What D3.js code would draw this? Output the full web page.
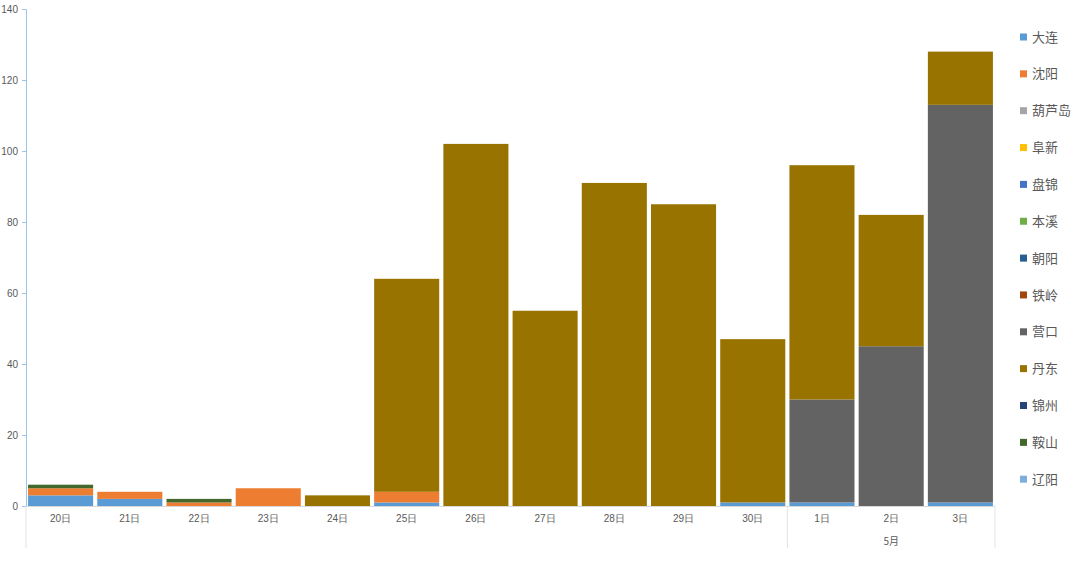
<!DOCTYPE html>
<html><head><meta charset="utf-8">
<script src="https://cdn.jsdelivr.net/npm/d3@7/dist/d3.min.js"></script>
<style>body{margin:0;background:#fff;}svg{display:block;font-family:"Noto Sans CJK SC","Noto Sans",sans-serif;}</style>
</head><body><svg id="c" width="1080" height="563"></svg>
<script>
const categories = ["20日","21日","22日","23日","24日","25日","26日","27日","28日","29日","30日","1日","2日","3日"];
const seriesNames = ["大连","沈阳","葫芦岛","阜新","盘锦","本溪","朝阳","铁岭","营口","丹东","锦州","鞍山","辽阳"];
const seriesColors = ["#5B9BD5","#ED7D31","#A5A5A5","#FFC000","#4472C4","#70AD47","#255E91","#9E480E","#636363","#997300","#264478","#43682B","#7CAFDD"];
const dalian   = [3,2,0,0,0,1,0,0,0,0,1,1,0,1];
const shenyang = [2,2,1,5,0,3,0,0,0,0,0,0,0,0];
const huludao  = [0,0,0,0,0,0,0,0,0,0,0,0,0,0];
const fuxin    = [0,0,0,0,0,0,0,0,0,0,0,0,0,0];
const panjin   = [0,0,0,0,0,0,0,0,0,0,0,0,0,0];
const benxi    = [0,0,0,0,0,0,0,0,0,0,0,0,0,0];
const chaoyang = [0,0,0,0,0,0,0,0,0,0,0,0,0,0];
const tieling  = [0,0,0,0,0,0,0,0,0,0,0,0,0,0];
const yingkou  = [0,0,0,0,0,0,0,0,0,0,0,29,45,112];
const dandong  = [0,0,0,0,3,60,102,55,91,85,46,66,37,15];
const jinzhou  = [0,0,0,0,0,0,0,0,0,0,0,0,0,0];
const anshan   = [1,0,1,0,0,0,0,0,0,0,0,0,0,0];
const liaoyang = [0,0,0,0,0,0,0,0,0,0,0,0,0,0];
const yTicks = [0,20,40,60,80,100,120,140];
const monthLabel = "5月";

(function(){
const seriesValues = [dalian,shenyang,huludao,fuxin,panjin,benxi,chaoyang,tieling,yingkou,dandong,jinzhou,anshan,liaoyang];
const table = categories.map((c,i)=>{const o={cat:c};seriesNames.forEach((s,j)=>o[s]=seriesValues[j][i]);return o;});

const svg = d3.select("#c");
const L=26, R=995, T=9, B=506;
const x = d3.scaleBand().domain(categories).range([L,R]).paddingInner(0.06).paddingOuter(0.03);
const y = d3.scaleLinear().domain([0,140]).range([B,T]);

const stack = d3.stack().keys(seriesNames)(table);
const color = d3.scaleOrdinal().domain(seriesNames).range(seriesColors);

svg.append("g").selectAll("g").data(stack).join("g")
  .attr("fill",d=>color(d.key))
  .selectAll("rect").data(d=>d.filter(p=>p[1]-p[0]>0)).join("rect")
  .attr("x",d=>x(d.data.cat)).attr("width",x.bandwidth())
  .attr("y",d=>y(d[1])).attr("height",d=>y(d[0])-y(d[1]));

const ya = svg.append("g").attr("transform",`translate(${L},0)`)
  .call(d3.axisLeft(y).tickValues(yTicks).tickSize(4).tickPadding(4));
ya.select(".domain").attr("stroke","#9DC3E6");
ya.selectAll(".tick line").attr("stroke","#9DC3E6");
ya.selectAll(".tick text").attr("fill","#595959").attr("font-size",10).attr("font-family","Liberation Sans, Arial, sans-serif");

const xa = svg.append("g").attr("transform",`translate(0,${B})`)
  .call(d3.axisBottom(x).tickSize(0).tickPadding(9));
xa.select(".domain").attr("stroke","#D9D9D9").attr("d",`M${L},0.5H${R}`);
xa.selectAll(".tick text").attr("fill","#595959").attr("font-size",10);

const sepX = [L, x("1日")-x.step()*x.paddingInner()/2, R];
svg.append("g").selectAll("line").data(sepX).join("line")
  .attr("x1",d=>d).attr("x2",d=>d).attr("y1",B).attr("y2",548)
  .attr("stroke","#E3E3E3").attr("stroke-width",1);
svg.append("text").attr("x",(sepX[1]+sepX[2])/2).attr("y",545)
  .attr("text-anchor","middle").attr("fill","#595959").attr("font-size",10).text(monthLabel);

const lg = svg.append("g").selectAll("g").data(seriesNames).join("g")
  .attr("transform",(d,i)=>`translate(1020,${37+i*36.85})`);
lg.append("rect").attr("x",0).attr("y",-3.5).attr("width",7).attr("height",7).attr("fill",d=>color(d));
lg.append("text").attr("x",12).attr("y",0).attr("dy","0.35em").attr("font-size",13).attr("fill","#595959").text(d=>d);
})();
</script></body></html>
